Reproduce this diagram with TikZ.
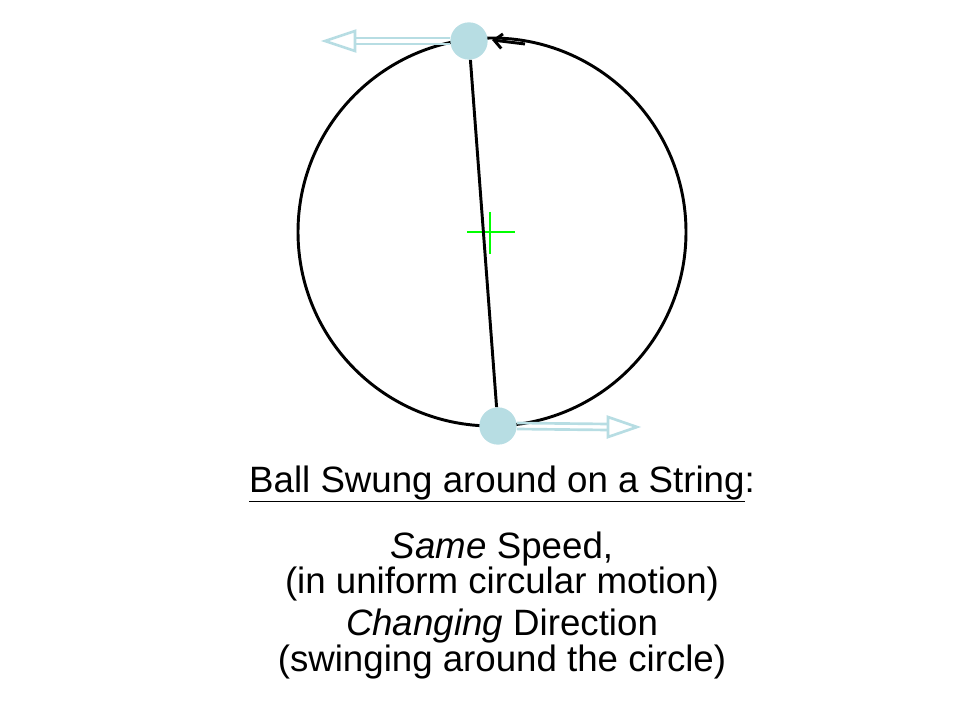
\documentclass[tikz,border=0pt]{standalone}
\usepackage{fontspec}
\setmainfont{Liberation Sans}
\usetikzlibrary{arrows.meta}
\definecolor{ball}{HTML}{B7DDE3}
\begin{document}
\begin{tikzpicture}[x=0.75pt,y=-0.75pt,
  ballst/.style={circle,fill=ball,minimum size=28pt,inner sep=0pt},
  vel/.style={draw=ball,line width=2pt},
  txt/.style={font=\fontsize{27.5}{32}\selectfont,anchor=base}]
\useasboundingbox (0,0) rectangle (960,720);
\draw[line width=2.2pt] (492,232) ellipse (194 and 194);
\draw[line width=2.2pt,-{Straight Barb[length=6pt,width=11pt]}] (525,44) -- (492,40);
\draw[line width=1.8pt,green] (467,232) -- (515,232) (490,212) -- (490,254);
\node[ballst] (top) at (469,41) {};
\node[ballst] (bot) at (498,426) {};
\draw[line width=2.2pt] (top) -- (bot);
% top velocity arrow
\draw[vel] (top.west) ++(0,-3) -- (355,38) (top.west) ++(0,3) -- (355,44);
\draw[vel,fill=white] (355,31) -- (325,41) -- (355,51) -- cycle;
% bottom velocity arrow
\draw[vel] (bot.east) ++(0,-3) -- (608,424) (bot.east) ++(0,3) -- (608,430);
\draw[vel,fill=white] (608,417) -- (637,427) -- (608,437) -- cycle;
\node[txt] (t1) at (502,492) {\underline{Ball Swung around on a String}:};
\node[txt] (t2) at (502,558) {\textit{Same} Speed,};
\node[txt] (t3) at (502,593) {(in uniform circular motion)};
\node[txt] (t4) at (502,635) {\textit{Changing} Direction};
\node[txt] (t5) at (502,671) {(swinging around the circle)};
\end{tikzpicture}
\end{document}
